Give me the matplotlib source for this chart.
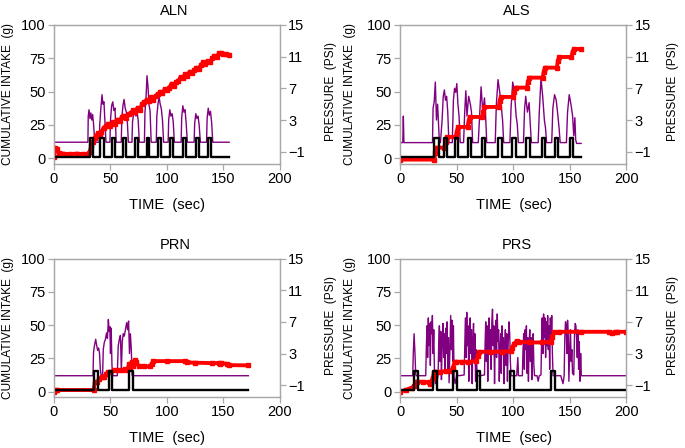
import matplotlib
matplotlib.use("Agg")
import matplotlib.pyplot as plt

plt.rcParams['font.family'] = ['Liberation Sans', 'DejaVu Sans']

titles = ["ALN", "ALS", "PRN", "PRS"]
x_ticks = [0, 50, 100, 150, 200]
intake_ticks = [0, 25, 50, 75, 100]
psi_ticks = [-1, 3, 7, 11, 15]

# ---- ALN ----
aln_intake_t = [0, 1, 2.5, 4, 8, 14, 20, 26, 30, 31.5,
                33, 34.5, 36, 37.5, 39, 40.5, 42, 44, 46, 48,
                50, 52, 54, 56, 58, 60, 62, 64, 66, 68,
                70, 72, 74, 76, 78, 80, 82, 84, 86, 88,
                90, 92, 94, 96, 98, 100, 102, 104, 106, 108,
                110, 112, 114, 116, 118, 120, 122, 124, 126, 128,
                130, 132, 134, 136, 138, 140, 142, 144, 146, 148,
                150, 152, 155]
aln_intake = [1, 8, 7, 4, 3.5, 3, 3.5, 3, 3.5, 5,
              9, 12, 15, 17, 19, 18, 20, 23, 24, 26,
              24, 27, 26, 29, 28, 31, 32, 30, 33, 34,
              36, 35, 38, 36, 41, 42, 44, 43, 46, 44,
              47, 48, 50, 49, 52, 51, 53, 56, 54, 57,
              58, 61, 60, 63, 62, 65, 64, 66, 68, 67,
              70, 72, 71, 73, 72, 75, 77, 76, 79, 79,
              78, 78, 77.5]
aln_press_t = [0, 30, 30.3, 31, 31.8, 32.6, 33.4, 34.2, 35, 35.8, 36.5,
               40, 40.5, 41.5, 42.5, 43.3, 44.2, 45, 46,
               49.5, 50, 51, 52, 53, 54, 55,
               59.5, 60, 61, 62, 63, 64, 65, 65.8,
               69, 69.5, 70.5, 71.5, 72.5, 73.5, 74.5, 75.5,
               80, 80.5, 81.5, 82.3, 83.2, 84, 85, 86,
               90.5, 91, 92, 93, 94, 95, 96, 97,
               101, 101.5, 102.5, 103.5, 104.5, 105.5, 106.5,
               112.5, 113, 114, 115, 116, 117, 118,
               124, 124.5, 125.5, 126.5, 127.5, 128.5, 129.5,
               135, 135.5, 136.5, 137.5, 138.5, 139.5, 140.5,
               155]
aln_press = [0.2, 0.2, 3.5, 4.3, 3.2, 3.9, 3.0, 3.7, 2.5, 0.8, 0.2,
             0.2, 2.5, 4.5, 6.2, 5.0, 5.3, 3.0, 0.2,
             0.2, 3.0, 4.8, 5.3, 4.2, 4.5, 0.2,
             0.2, 3.2, 4.8, 5.6, 4.5, 4.0, 2.5, 0.2,
             0.2, 2.8, 3.8, 4.3, 3.5, 4.0, 3.0, 0.2,
             0.2, 4.0, 6.0, 8.6, 7.2, 5.0, 4.2, 0.2,
             0.2, 3.5, 5.0, 5.9, 5.0, 4.4, 3.0, 0.2,
             0.2, 3.0, 4.3, 3.5, 3.8, 2.8, 0.2,
             0.2, 3.3, 4.8, 4.0, 4.3, 2.5, 0.2,
             0.2, 2.6, 3.8, 3.2, 3.5, 2.3, 0.2,
             0.2, 3.2, 4.5, 3.6, 4.1, 2.7, 0.2,
             0.2]
aln_valve_on = [31.5, 41, 51.5, 61.5, 72, 82, 92, 102.5, 114, 125.5, 136]
aln_valve_off = [34.5, 44, 54, 64, 74.5, 84.5, 94.5, 105, 116.5, 128, 138.5]
aln_end = 155

# ---- ALS ----
als_intake_t = [0, 30, 31, 32, 39, 40, 41, 49, 50, 51,
                59.5, 60.5, 61.5, 72.5, 73.5, 74.5, 87, 88, 89, 100,
                101, 102, 112, 113, 114, 126, 127, 128, 138.5, 139.5,
                140.5, 151.5, 152.5, 153.5, 160]
als_intake = [-1, -1, 4, 8, 8, 12, 16, 16, 20, 23.5,
              23.5, 28, 31, 31, 35, 38.5, 38.5, 43, 46, 46,
              50, 53, 53, 57, 60.5, 60.5, 65, 68, 68, 73,
              76, 76, 80, 82, 82]
als_press_t = [0, 2.2, 2.7, 3.2, 28.5,
               29, 30, 31, 32, 33, 34.5, 35.5,
               37, 38, 39, 40, 41, 42, 43,
               46, 47, 48, 49, 50, 51, 52, 53,
               56, 57, 58, 59, 60.5, 62, 63, 64,
               69, 70, 71.5, 73, 74.5, 75.5, 76.5,
               84, 85, 86.5, 88, 89.5, 90.5, 91.5,
               97, 98, 99.5, 101, 102.5, 103.5, 104.5,
               109, 110, 111, 112.5, 114, 115, 116,
               122, 123, 124.5, 126, 127.5, 128.5, 129.5,
               134, 135, 136.5, 138, 139.5, 140.5, 141.5,
               147, 148, 149.5, 151, 152.5, 153.5, 154.5, 155.2, 156,
               160]
als_press = [0.15, 0.15, 3.5, 0.15, 0.15,
             4.5, 5.3, 7.8, 3.0, 5.0, 0.5, 0.15,
             3.0, 6.0, 6.8, 5.5, 6.0, 4.0, 0.15,
             0.15, 5.5, 7.0, 6.5, 7.6, 5.0, 3.5, 0.15,
             0.15, 4.0, 6.7, 3.5, 6.0, 5.0, 4.0, 0.15,
             0.15, 3.0, 7.2, 4.0, 5.8, 3.5, 0.15,
             0.15, 5.0, 8.1, 6.5, 4.5, 3.0, 0.15,
             0.15, 4.5, 7.8, 6.5, 3.5, 2.5, 0.15,
             0.15, 4.5, 6.0, 4.0, 5.2, 2.5, 0.15,
             0.15, 4.0, 8.3, 6.0, 3.0, 2.0, 0.15,
             0.15, 4.5, 6.2, 5.5, 3.5, 2.0, 0.15,
             0.15, 4.0, 6.2, 5.0, 3.5, 1.0, 3.3, 0.5, 0.05,
             0.05]
als_valve_on = [30, 38.6, 48.3, 60, 72, 86.6, 99.2, 111.6, 125, 136.7, 150]
als_valve_off = [34.5, 41.6, 51.3, 63, 75, 89.6, 102.2, 114.6, 128, 139.6, 152.8]
als_end = 160

# ---- PRN ----
prn_intake_t = [0, 2, 3, 35, 36.3, 38, 40, 42.2, 44, 46,
                48.1, 50, 53, 57, 60, 63, 65, 66.5, 67.5, 68.7,
                70, 71.7, 73, 75, 80, 85, 86.5, 88, 100, 116,
                117.5, 125, 140, 146, 147, 148, 153, 155, 172]
prn_intake = [0, 1, 1.3, 1.3, 7.5, 7, 9.5, 11.3, 11, 13,
              15, 14.5, 16, 16.4, 16, 17, 16.5, 21, 18.5, 22.5,
              19.5, 23.9, 22, 19, 19, 19, 21, 23, 23, 23,
              22, 21.8, 21.5, 21.5, 20.5, 21.5, 21, 20, 19.8]
prn_press_t = [0, 34.5, 35, 35.8, 36.9, 37.8, 38.6, 39.5, 40.3, 41, 41.8,
               43, 43.6, 44.5, 45.5, 46.5, 47.3, 48.1, 48.8, 49.4, 50, 50.6, 51.3, 52,
               56, 56.8, 57.8, 58.8, 59.6, 60.4, 61.3, 62.2, 63.2, 64.3, 65.2, 66,
               66.8, 67.6, 68.4, 69.2,
               172]
prn_press = [0.2, 0.2, 3.2, 4.0, 4.8, 4.0, 3.4, 3.7, 3.0, 1.0, 0.2,
             0.2, 3.5, 4.4, 4.8, 5.6, 4.9, 7.3, 5.8, 6.4, 3.0, 6.2, 1.5, 0.2,
             0.2, 3.9, 4.8, 5.3, 0.8, 4.5, 5.5, 5.2, 6.0, 6.9, 6.0, 7.1,
             3.0, 5.5, 3.5, 0.2,
             0.2]
prn_valve_on = [35.5, 48.5, 66]
prn_valve_off = [39, 51.5, 69.5]
prn_end = 172

# ---- PRS ----
prs_intake_t = [0, 5, 10, 12.5, 13.5, 15, 20, 25, 26, 27,
                28.5, 30, 31, 35, 40, 45, 46.5, 48, 49, 55,
                60, 67, 68.5, 70, 80, 90, 98, 99, 100.5, 103,
                105, 115, 125, 133, 134.5, 136, 140, 160, 185, 187,
                190, 192, 200]
prs_intake = [0, 1.5, 3, 4, 7, 7.5, 7.5, 7, 6, 6.5,
              10, 14, 15, 15, 15.5, 15.5, 18, 22, 22.5, 22.5,
              22.5, 23, 27, 30, 30, 30, 30.5, 33, 36, 38,
              37.5, 37, 37, 37.5, 41, 44.5, 45, 45, 45, 44,
              44.5, 45, 45]
prs_press_t = [0, 11, 11.5, 12.2, 13, 13.6, 14, 22.5,
               23, 23.6, 24.2, 24.8, 25.4, 26, 26.6, 27.2, 27.8, 28.4, 29, 29.6, 30.2,
               31, 32.5, 33.5,
               34, 34.6, 35.2, 35.8, 36.4, 37, 37.8, 38.4, 39, 39.6, 40.2, 40.8,
               41.4, 42, 42.6, 43.2, 44, 44.6, 45.2, 45.8, 46.4, 47, 47.6, 48.5, 50, 52,
               56.5, 57, 57.6, 58.2, 58.8, 59.4, 60, 60.6, 61.2, 61.8, 62.4, 63,
               63.6, 64.2, 64.8, 65.4, 66, 66.6, 67.2, 68, 71,
               74.5, 75, 75.6, 76.2, 76.8, 77.4, 78, 78.6, 79.2, 79.8, 80.4, 81,
               81.6, 82.2, 82.8, 83.4, 84, 84.6, 85.2, 85.8, 86.4, 87, 87.6, 88.2,
               88.8, 89.4, 90, 90.6, 91.2, 91.8, 92.4, 93, 93.6, 94.2, 94.8, 95.5,
               96.2, 96.8, 97.4, 98, 103, 104, 104.6, 108,
               108.6, 109.2, 109.8, 110.4, 111, 111.6, 112.2, 112.8, 113.4, 114,
               114.6, 115.2, 115.8, 116.4, 117, 117.6, 118.2, 118.8, 121, 122, 123,
               124.5, 125, 125.6, 126.2, 126.8, 127.4, 128, 128.6, 129.2, 129.8,
               130.4, 131, 131.6, 132.2, 132.8, 133.4, 134, 134.6, 135.2, 142, 144,
               145, 145.6, 146.2, 146.8, 147.4, 148, 148.6, 149.2, 150, 150.6,
               151.2, 151.8, 152.4, 153.5, 154.2, 154.8, 155.4, 156, 156.6, 157.2,
               157.8, 158.4, 159, 159.6, 160.2, 161, 200]
prs_press = [0.2, 0.2, 3.0, 5.5, 3.0, 0.5, 0.2, 0.2,
             3.5, 6.5, 2.5, 7.5, 4.0, 6.8, 1.5, 7.0, 5.5, 7.8, 3.0, 6.0, 1.0,
             -0.8, -0.5, 0.3,
             4.5, 6.5, 2.0, 5.8, -0.3, 4.0, 6.8, 2.5, 5.5, 0.5, 6.2, 3.0,
             7.0, 1.0, 5.0, -0.7, 4.5, 7.8, 3.5, 7.2, 2.0, 6.5, 0.0, -0.8, 0.3, 0.2,
             0.3, 3.5, 7.5, 2.5, 8.2, 4.0, 6.5, -0.5, 5.5, 7.5, 3.0, 6.0,
             -0.8, 4.5, 6.8, 2.0, 5.5, -0.5, 3.5, 0.2, 0.2,
             0.3, 4.0, 7.0, 2.0, 6.5, -0.5, 5.5, 7.5, 3.0, 6.0, 1.0, 7.0,
             8.6, 4.0, 6.5, -0.8, 5.0, 7.2, 2.5, 8.0, 4.5, 6.0, -0.5, 3.5,
             5.5, 0.5, 6.5, 3.0, 5.0, -0.8, 4.0, 6.0, 1.5, 5.5, -0.5, 4.5,
             7.0, 5.5, 2.0, 0.2, 0.2, 2.5, 0.2, 0.2,
             3.5, 5.5, 1.0, 6.0, 3.5, 6.5, 0.5, 5.0, -0.5, 4.5,
             6.0, 2.0, 5.0, -0.3, 4.0, 5.5, 1.5, 0.2, 0.2, -0.5, 0.2,
             0.3, 4.5, 7.5, 3.0, 8.0, 5.0, 7.5, 2.5, 7.0, 4.0,
             7.8, 3.5, 6.5, 1.0, 7.5, 4.5, 7.8, 3.0, 0.2, 0.2, -0.8,
             0.2, 5.0, 7.0, 6.5, 3.0, 7.2, 5.5, -0.5, 4.0, 6.0,
             2.0, 3.5, 0.5, 0.3, 5.5, 6.8, 6.5, 5.0, 2.5, 6.0,
             1.0, 4.5, -0.5, 3.0, 0.2, 0.2, 0.2]
prs_valve_on = [12.3, 29.2, 46.8, 67.8, 97.2, 133.7]
prs_valve_off = [15.9, 32.1, 50.0, 70.7, 100.2, 136.9]
prs_end = 200

valve_low = 1.3
valve_high = 15.5

panels = [
    (aln_intake_t, aln_intake, aln_press_t, aln_press, aln_valve_on, aln_valve_off, aln_end),
    (als_intake_t, als_intake, als_press_t, als_press, als_valve_on, als_valve_off, als_end),
    (prn_intake_t, prn_intake, prn_press_t, prn_press, prn_valve_on, prn_valve_off, prn_end),
    (prs_intake_t, prs_intake, prs_press_t, prs_press, prs_valve_on, prs_valve_off, prs_end),
]


def valve_steps(on, off, end):
    t = [0.0]
    v = [valve_low]
    for a, b in zip(on, off):
        t += [a, a, b, b]
        v += [valve_low, valve_high, valve_high, valve_low]
    t.append(end)
    v.append(valve_low)
    return t, v


W, H = 685, 448
fig = plt.figure(figsize=(W / 100, H / 100), dpi=100)

# axes boxes in pixels: left, top, width, height
boxes = [(54, 25, 226, 138.6), (400.3, 25, 226, 138.6),
         (54, 258.5, 226, 138.6), (400.3, 258.5, 226, 138.6)]
title_x = [0.53, 0.515, 0.535, 0.515]
ylab_left = [-0.178, -0.196, -0.178, -0.196]
ylab_right = [1.2, 1.18, 1.2, 1.18]
spine_col = '#a8a8a8'

for i, (box, (it, iv, pt, pv, on, off, end)) in enumerate(zip(boxes, panels)):
    l, t, w, h = box
    ax = fig.add_axes([l / W, 1 - (t + h) / H, w / W, h / H])
    ax2 = ax.twinx()
    ax.set_zorder(ax2.get_zorder() + 1)
    ax.patch.set_visible(False)

    ax2.plot(pt, pv, color='#800080', lw=1.0)
    ax.plot(it, iv, color='#ff0000', lw=2.8, marker='s', ms=2.6,
            solid_capstyle='butt')
    vt, vv = valve_steps(on, off, end)
    ax.plot(vt, vv, color='black', lw=1.7)

    ax.set_xlim(0, 200)
    ax.set_ylim(-4, 100)
    ax2.set_ylim(-2.5, 15)
    ax.set_xticks(x_ticks)
    ax.set_yticks(intake_ticks)
    ax2.set_yticks(psi_ticks)

    for a in (ax, ax2):
        for s in a.spines.values():
            s.set_color(spine_col)
            s.set_linewidth(0.9)
        a.tick_params(direction='out', length=4, width=0.9, color=spine_col,
                      labelsize=10.5, pad=2)

    ax.set_xlabel('TIME  (sec)', fontsize=10.5)
    ax.xaxis.set_label_coords(0.502, -0.245)
    ax.set_ylabel('CUMULATIVE INTAKE  (g)', fontsize=8.6)
    ax.yaxis.set_label_coords(ylab_left[i], 0.5)
    ax2.set_ylabel('PRESSURE  (PSI)', fontsize=8.6)
    ax2.yaxis.set_label_coords(ylab_right[i], 0.52)
    ax.set_title(titles[i], fontsize=10.5, x=title_x[i], pad=7)

fig.savefig('out.png', dpi=100)
